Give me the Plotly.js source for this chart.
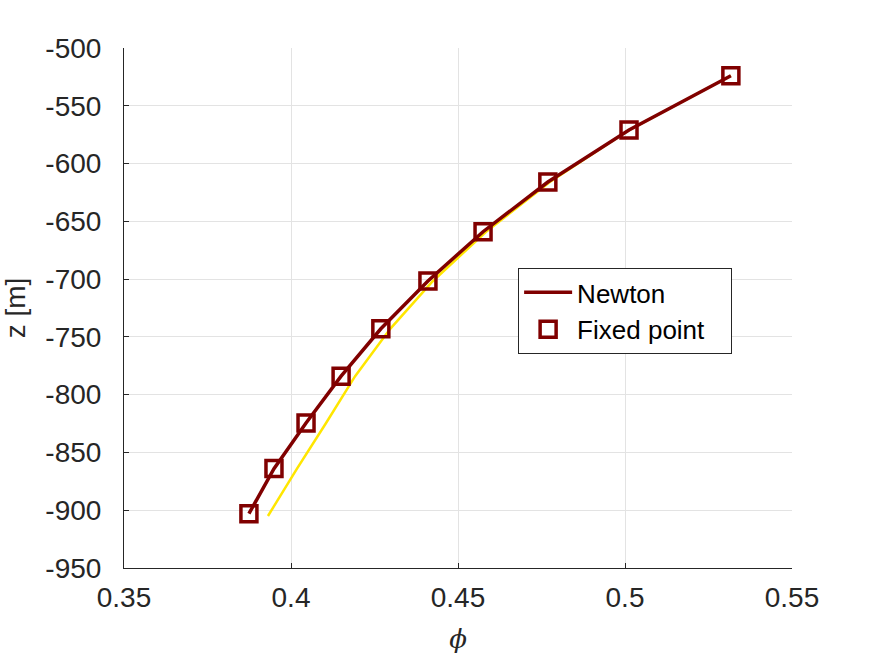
<!DOCTYPE html>
<html>
<head>
<meta charset="utf-8">
<script src="https://cdn.plot.ly/plotly-3.0.1.min.js"></script>
<style>html,body{margin:0;padding:0;background:#fff;}#chart{width:875px;height:657px;}</style>
</head>
<body>
<div id="chart"></div>
<script>
// Newton solution (also the fixed-point solution, plotted as markers)
const phiNewton = [0.3874, 0.3949, 0.4045, 0.4150, 0.4269, 0.4410, 0.4575, 0.4769, 0.5012, 0.5317];
const zNewton   = [-903, -864, -824.5, -784, -743, -701.6, -659, -616, -571, -524];
// Yellow reference curve
const phiRef = [0.3931, 0.4018, 0.4105, 0.4192, 0.4297, 0.4425, 0.4584, 0.4775, 0.5012, 0.5317];
const zRef   = [-905, -864, -824.5, -784, -743, -701.6, -659, -616, -571, -524];

const xTicks = [0.35, 0.4, 0.45, 0.5, 0.55];
const xTickText = ['0.35', '0.4', '0.45', '0.5', '0.55'];
const yTicks = [-950, -900, -850, -800, -750, -700, -650, -600, -550, -500];
const yTickText = ['-950', '-900', '-850', '-800', '-750', '-700', '-650', '-600', '-550', '-500'];
const seriesNames = ['Newton', 'Fixed point'];

const font = 'Liberation Sans, Arial, Helvetica, sans-serif';
const dark = '#262626';
const pad = '\u00a0\u00a0\u00a0';

const traces = [
  {x: phiRef, y: zRef, mode: 'lines', line: {color: '#ffe600', width: 2.5}, showlegend: false, hoverinfo: 'skip'},
  {x: phiNewton, y: zNewton, mode: 'lines', name: seriesNames[0], line: {color: '#800000', width: 3.5}},
  {x: phiNewton, y: zNewton, mode: 'markers', name: seriesNames[1] + pad,
   marker: {symbol: 'square-open', size: 16, color: '#800000', line: {width: 3.5, color: '#800000'}}}
];

const layout = {
  width: 875, height: 657,
  margin: {l: 124, r: 83, t: 48, b: 89},
  paper_bgcolor: '#fff', plot_bgcolor: '#fff',
  font: {family: font, color: dark, size: 26},
  showlegend: true,
  legend: {x: 0.59, y: 0.577, xanchor: 'left', yanchor: 'top', itemwidth: 48,
           bgcolor: '#fff', bordercolor: dark, borderwidth: 1,
           font: {family: font, size: 26, color: '#000'}, tracegroupgap: 0},
  xaxis: {
    range: [0.35, 0.55], tickvals: xTicks, ticktext: xTickText,
    showgrid: true, gridcolor: '#e3e3e3', gridwidth: 1,
    zeroline: false, showline: true, linecolor: dark, linewidth: 1,
    ticks: 'inside', ticklen: 5, tickcolor: dark, ticklabelstandoff: 4,
    tickfont: {family: font, size: 28, color: dark},
    title: {text: '<i>ϕ</i>', font: {family: 'DejaVu Serif, serif', size: 26, color: dark}, standoff: 18}
  },
  yaxis: {
    range: [-950, -500], tickvals: yTicks, ticktext: yTickText,
    showgrid: true, gridcolor: '#e3e3e3', gridwidth: 1,
    zeroline: false, showline: true, linecolor: dark, linewidth: 1,
    ticks: 'inside', ticklen: 5, tickcolor: dark, ticklabelstandoff: 16,
    tickfont: {family: font, size: 28, color: dark},
    title: {text: 'z [m]', font: {family: font, size: 28, color: dark}, standoff: 12}
  }
};

Plotly.newPlot('chart', traces, layout, {displayModeBar: false, staticPlot: true});
</script>
</body>
</html>
